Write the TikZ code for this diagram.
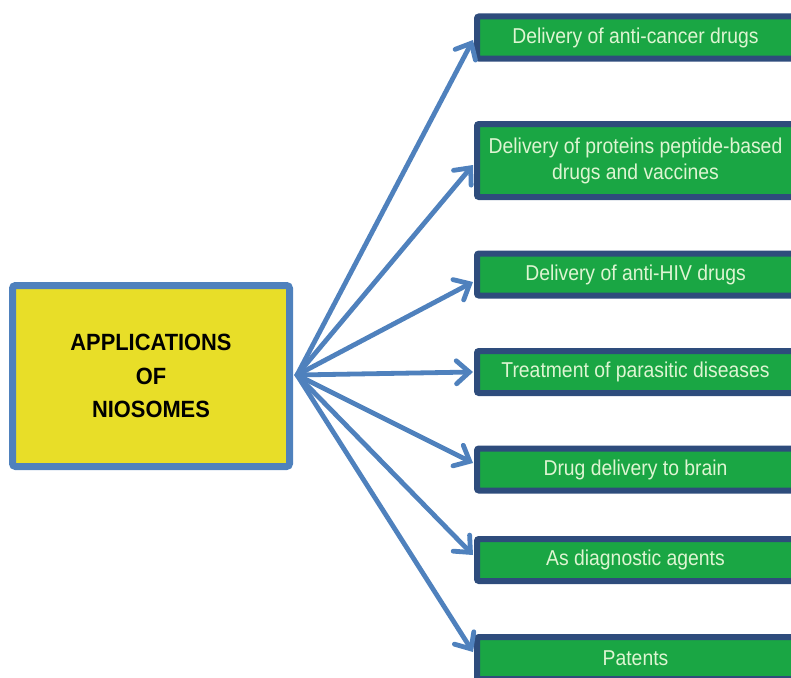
\documentclass[tikz,border=0pt]{standalone}
\usepackage{fontspec}
\setmainfont{Liberation Sans}
\newfontfamily\greenfont[FakeStretch=0.9]{Liberation Sans}
\newfontfamily\titlefont[FakeStretch=0.93]{Liberation Sans}
\usetikzlibrary{arrows.meta,calc}
\definecolor{arrowblue}{RGB}{79,129,189}
\definecolor{boxyellow}{RGB}{232,222,40}
\definecolor{boxgreen}{RGB}{26,166,68}
\definecolor{boxnavy}{RGB}{46,76,124}
\definecolor{textpale}{RGB}{222,245,210}
\tikzset{
  appbox/.style={draw=boxnavy, line width=6pt, fill=boxgreen, rounded corners=2pt,
    minimum width=317pt, minimum height=42pt, inner sep=0pt, align=center,
    text=textpale, font=\greenfont\fontsize{21.5}{26}\selectfont},
  mainbox/.style={draw=arrowblue, line width=7pt, fill=boxyellow, rounded corners=3pt,
    minimum width=277pt, minimum height=181pt, inner sep=0pt, align=center,
    font=\titlefont\bfseries\fontsize{23.5}{33.5}\selectfont},
  arr/.style={draw=arrowblue, line width=4.8pt, line cap=round,
    -{Straight Barb[length=13pt,width=23pt,line cap=round]}}
}
\begin{document}
\begin{tikzpicture}[x=1pt,y=-1pt]
\useasboundingbox (0,0) rectangle (791,677);
\clip (0,0) rectangle (791,677);
\node[mainbox] (app) at (151,376) {APPLICATIONS\\OF\\NIOSOMES};
\node[appbox] (b1) at (635.5,37.5) {Delivery of anti-cancer drugs};
\node[appbox, minimum height=73pt] (b2) at (635.5,160.5) {Delivery of proteins peptide-based\\drugs and vaccines};
\node[appbox] (b3) at (635.5,274.5) {Delivery of anti-HIV drugs};
\node[appbox] (b4) at (635.5,372) {Treatment of parasitic diseases};
\node[appbox] (b5) at (635.5,469.5) {Drug delivery to brain};
\node[appbox] (b6) at (635.5,560) {As diagnostic agents};
\node[appbox] (b7) at (635.5,658) {Patents};
\coordinate (src) at ($(app.east)+(4,-1)$);
\draw[arr] (src) -- ($(b1.west)+(-1,2.5)$);
\draw[arr] (src) -- ($(b2.west)+(-1,4.5)$);
\draw[arr] (src) -- ($(b3.west)+(-1,7.5)$);
\draw[arr] (src) -- ($(b4.west)+(-1,0)$);
\draw[arr] (src) -- ($(b5.west)+(-1,-6.5)$);
\draw[arr] (src) -- ($(b6.west)+(-1,-5)$);
\draw[arr] (src) -- ($(b7.west)+(-1,-6)$);
\end{tikzpicture}
\end{document}
